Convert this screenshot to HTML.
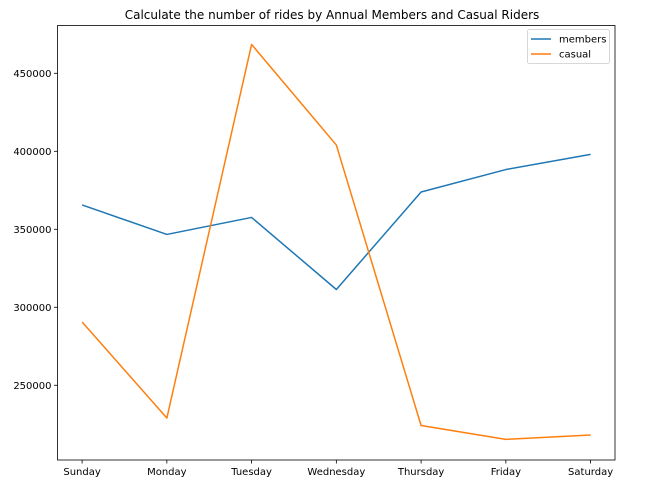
<!DOCTYPE html>
<html><head><meta charset="utf-8"><style>
html,body{margin:0;padding:0;background:#fff;}
svg{display:block;font-family:"DejaVu Sans","Liberation Sans",sans-serif;}
</style></head><body>
<svg id="chart" width="664" height="489"></svg>
<script>
const categories=["Sunday","Monday","Tuesday","Wednesday","Thursday","Friday","Saturday"];
const members=[365600,346700,357600,311400,373900,388300,398000];
const casual=[290600,229000,468500,404000,224200,215300,218100];
const yTicks=[250000,300000,350000,400000,450000];
const L=57.5,R=615,T=25.5,B=460;
const yMin=202100,yMax=480640;
const x0=82.1,x1=590.6;
function xs(i){return x0+(x1-x0)*i/(categories.length-1);}
function ys(v){return B-(v-yMin)/(yMax-yMin)*(B-T);}
const svg=document.getElementById('chart');
const NS='http://www.w3.org/2000/svg';
function mk(t,a,p){const e=document.createElementNS(NS,t);for(const k in a)e.setAttribute(k,a[k]);(p||svg).appendChild(e);return e;}
let t=mk('text',{x:332,y:19,'text-anchor':'middle','font-size':12,fill:'#000'});


t.textContent='Calculate the number of rides by Annual Members and Casual Riders';
yTicks.forEach(v=>{
 const y=ys(v);
 const l=mk('line',{x1:L-3.5,x2:L,y1:y,y2:y,stroke:'#000','stroke-width':0.8});
 
 
 const tx=mk('text',{x:L-6,y:y+3.5,'text-anchor':'end','font-size':10,fill:'#000'});
 
 
 tx.textContent=v;
});
categories.forEach((c,i)=>{
 const x=xs(i);
 const l=mk('line',{x1:x,x2:x,y1:B,y2:B+3.5,stroke:'#000','stroke-width':0.8});
 
 
 const tx=mk('text',{x:x,y:B+15,'text-anchor':'middle','font-size':10,fill:'#000'});
 
 
 tx.textContent=c;
});
function series(vals,color,name){
 const p=mk('polyline',{points:vals.map((v,i)=>xs(i)+','+ys(v)).join(' '),fill:'none',stroke:color,'stroke-width':1.5,'stroke-linejoin':'round'});
 
 
}
series(members,'#1f77b4','members-line');
series(casual,'#ff7f0e','casual-line');
const fr=mk('rect',{x:L,y:T,width:R-L,height:B-T,fill:'none',stroke:'#000','stroke-width':0.8});


const lg=mk('g',{});


mk('rect',{x:527.5,y:29.5,width:82,height:34,rx:2,fill:'#fff',stroke:'#ccc','stroke-width':0.8},lg);
[['members','#1f77b4',39],['casual','#ff7f0e',54]].forEach(([n,c,y])=>{
 mk('line',{x1:531,x2:551,y1:y,y2:y,stroke:c,'stroke-width':1.5},lg);
 const tx=mk('text',{x:559,y:y+3.5,'font-size':10,fill:'#000'},lg);
 
 
 tx.textContent=n;
});
</script>
</body></html>
